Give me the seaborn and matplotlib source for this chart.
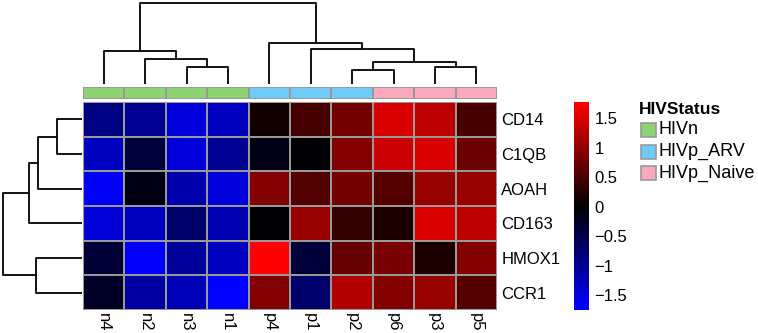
import matplotlib
matplotlib.use("Agg")
import matplotlib.pyplot as plt
from matplotlib.colors import LinearSegmentedColormap, ListedColormap
from matplotlib.patches import Rectangle
import seaborn as sns
import pandas as pd

# ---- data --------------------------------------------------------------------
genes = ["CD14", "C1QB", "AOAH", "CD163", "HMOX1", "CCR1"]
samples = ["n4", "n2", "n3", "n1", "p4", "p1", "p2", "p6", "p3", "p5"]
status = ["HIVn", "HIVn", "HIVn", "HIVn", "HIVp_ARV", "HIVp_ARV", "HIVp_ARV",
          "HIVp_Naive", "HIVp_Naive", "HIVp_Naive"]

cd14 = [-0.90, -1.00, -1.50, -1.30, 0.15, 0.50, 0.80, 1.50, 1.30, 0.50]
c1qb = [-1.30, -0.40, -1.50, -1.00, -0.15, 0.00, 0.90, 1.40, 1.50, 0.75]
aoah = [-1.65, -0.10, -1.15, -1.50, 0.90, 0.55, 0.80, 0.60, 1.05, 1.05]
cd163 = [-1.45, -1.30, -0.70, -1.20, 0.00, 1.05, 0.35, 0.20, 1.50, 1.30]
hmox1 = [-0.35, -1.70, -1.05, -1.30, 1.75, -0.40, 0.70, 0.85, 0.20, 0.90]
ccr1 = [-0.25, -1.10, -1.25, -1.75, 0.90, -0.70, 1.25, 0.90, 1.05, 0.60]

status_levels = ["HIVn", "HIVp_ARV", "HIVp_Naive"]
status_colors = ["#8fd273", "#6ecbf9", "#f9a9bb"]

cbar_ticks = [1.5, 1, 0.5, 0, -0.5, -1, -1.5]

# dendrograms: (left child, right child, height); leaves are 0..n-1 in display
# order, merged clusters get ids n, n+1, ...
col_merges = [(2, 3, 17), (1, 10, 25), (0, 11, 33),
              (6, 7, 14), (8, 9, 17), (13, 14, 22), (5, 15, 35), (4, 16, 41),
              (12, 17, 82)]
row_merges = [(0, 1, 25), (6, 2, 44), (7, 3, 53), (4, 5, 46), (8, 9, 79)]

# ---- figure -------------------------------------------------------------------
W, H = 758, 333
plt.rcParams["font.family"] = ["Liberation Sans", "DejaVu Sans"]
fig = plt.figure(figsize=(W / 100, H / 100), dpi=100)


def px_axes(x0, y0, x1, y1):
    return fig.add_axes([x0 / W, 1 - y1 / H, (x1 - x0) / W, (y1 - y0) / H])


def draw_dendro(ax, merges, n, horizontal_top=True):
    pos = {i: i + 0.5 for i in range(n)}
    hgt = {i: 0.0 for i in range(n)}
    for k, (a, b, h) in enumerate(merges):
        xa, xb = pos[a], pos[b]
        xs = [xa, xa, xb, xb]
        ys = [hgt[a], h, h, hgt[b]]
        if horizontal_top:
            ax.plot(xs, ys, color="black", lw=1.3, clip_on=False,
                    solid_capstyle="butt")
        else:
            ax.plot(ys, xs, color="black", lw=1.3, clip_on=False,
                    solid_capstyle="butt")
        pos[n + k] = (xa + xb) / 2
        hgt[n + k] = h
    ax.axis("off")


# main heatmap
df = pd.DataFrame([cd14, c1qb, aoah, cd163, hmox1, ccr1], index=genes, columns=samples)
cmap = LinearSegmentedColormap.from_list("bkr", ["#0000ff", "#000000", "#ff0000"], N=100)

ax = px_axes(83, 102, 497, 310)
cax = px_axes(574, 102, 589, 310)
sns.heatmap(df, ax=ax, cmap=cmap, vmin=-1.75, vmax=1.78, cbar_ax=cax,
            linewidths=1.2, linecolor="#999999")
ax.yaxis.tick_right()
ax.set_yticklabels(genes, rotation=0, fontsize=12)
ax.set_xticklabels(samples, rotation=270, fontsize=12)
ax.tick_params(axis="y", length=0, pad=3)
ax.tick_params(axis="x", length=0, pad=2)
ax.set_xlabel("")
ax.set_ylabel("")

cax.set_yticks(cbar_ticks)
cax.set_yticklabels([f"{t:g}".replace("-", "\u2212") for t in cbar_ticks], fontsize=12)
cax.tick_params(length=0, pad=4)
for s in cax.spines.values():
    s.set_visible(False)

# annotation bar
aax = px_axes(83, 87, 497, 99)
codes = pd.DataFrame([[status_levels.index(s) for s in status]], columns=samples)
sns.heatmap(codes, ax=aax, cmap=ListedColormap(status_colors), vmin=-0.5, vmax=2.5,
            cbar=False, linewidths=1.2, linecolor="#999999",
            xticklabels=False, yticklabels=False)

# dendrograms
tax = px_axes(83, 2.5, 497, 84)
draw_dendro(tax, col_merges, len(samples), horizontal_top=True)
tax.set_xlim(0, len(samples))
tax.set_ylim(0, 82)

lax = px_axes(3, 102, 82, 310)
draw_dendro(lax, row_merges, len(genes), horizontal_top=False)
lax.set_ylim(len(genes), 0)
lax.set_xlim(79, 0)

# legend
leg = fig.add_axes([0, 0, 1, 1])
leg.set_xlim(0, W)
leg.set_ylim(H, 0)
leg.axis("off")
leg.text(639, 109, "HIVStatus", fontsize=12.5, fontweight="bold", va="center", ha="left")
for i, (lab, col) in enumerate(zip(status_levels, status_colors)):
    yc = 130 + i * 21.5
    leg.add_patch(Rectangle((641, yc - 7), 15, 14, facecolor=col,
                            edgecolor="#999999", lw=1.2))
    leg.text(659, yc, lab, fontsize=13, va="center", ha="left")

fig.savefig("out.png", dpi=100)
